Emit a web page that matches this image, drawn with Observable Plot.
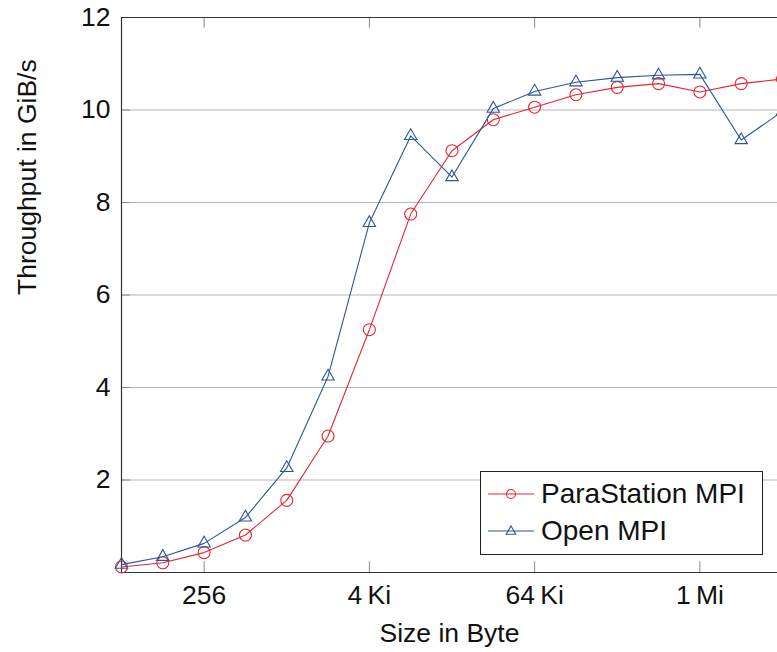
<!DOCTYPE html>
<html>
<head>
<meta charset="utf-8">
<script src="https://cdn.jsdelivr.net/npm/d3@7"></script>
<script src="https://cdn.jsdelivr.net/npm/@observablehq/plot@0.6"></script>
<style>
  html, body { margin: 0; padding: 0; background: white; overflow: hidden; }
  #wrap { position: relative; width: 777px; height: 652px; font-family: "Liberation Sans", Arial, sans-serif; }
  #legend { position: absolute; left: 480px; top: 471px; width: 283px; height: 84px; border: 1px solid #222; background: white; box-sizing: border-box; }
  .row { position: absolute; left: 0; height: 34px; display: flex; align-items: center; font-size: 28px; color: #111; white-space: nowrap; }
  .row svg { margin-left: 7px; margin-right: 7px; }
</style>
</head>
<body>
<div id="wrap"></div>
<script>
const sizes = [64, 128, 256, 512, 1024, 2048, 4096, 8192, 16384, 32768, 65536, 131072, 262144, 524288, 1048576, 2097152, 4194304];
const parastation = [0.12, 0.21, 0.43, 0.81, 1.56, 2.95, 5.25, 7.75, 9.12, 9.79, 10.06, 10.33, 10.49, 10.57, 10.39, 10.57, 10.67];
const openmpi = [0.17, 0.34, 0.63, 1.19, 2.26, 4.24, 7.56, 9.44, 8.55, 10.03, 10.40, 10.60, 10.70, 10.75, 10.77, 9.35, 9.97];
const seriesNames = ["ParaStation MPI", "Open MPI"];
const xTicks = [256, 4096, 65536, 1048576];
const xTickLabels = ["256", "4\u2009Ki", "64\u2009Ki", "1\u2009Mi"];
const yTicks = [2, 4, 6, 8, 10, 12];

const RED = "#e62530";
const BLUE = "#2c5696";
const FS = 26.5;

const dataP = sizes.map((s, i) => ({size: s, v: parastation[i]}));
const dataO = sizes.map((s, i) => ({size: s, v: openmpi[i]}));

const W = 777, H = 652;
const plot = Plot.plot({
  width: W,
  height: H,
  marginLeft: 121,
  marginRight: 0,
  marginTop: 17,
  marginBottom: 80,
  style: {fontFamily: "Liberation Sans, Arial, sans-serif", fontSize: FS + "px", color: "#111", background: "white"},
  x: {type: "log", base: 2, domain: [64, 4194304], range: [121, 782]},
  y: {domain: [0, 12], range: [572, 17]},
  marks: [
    Plot.ruleY(yTicks.slice(0, -1), {stroke: "#b5b5b5", strokeWidth: 1}),
    // inward ticks
    Plot.ruleX(xTicks, {x: d => d, y1: 0, y2: 0.23, stroke: "#888"}),
    Plot.ruleX(xTicks, {x: d => d, y1: 12, y2: 11.77, stroke: "#888"}),
    Plot.ruleY(yTicks, {y: d => d, x1: 64, x2: 64 * Math.pow(2, 0.22), stroke: "#888"}),
    // frame lines
    Plot.ruleY([0], {stroke: "#333", strokeWidth: 1.2}),
    Plot.ruleY([12], {stroke: "#333", strokeWidth: 1.2}),
    Plot.ruleX([64], {stroke: "#333", strokeWidth: 1.2}),
    Plot.axisX({ticks: xTicks, tickFormat: (d) => xTickLabels[xTicks.indexOf(d)], tickSize: 0, tickPadding: 13, label: null, fontSize: FS}),
    Plot.axisY({ticks: yTicks, tickSize: 0, tickPadding: 11, label: null, fontSize: FS}),
    Plot.line(dataP, {x: "size", y: "v", stroke: RED, strokeWidth: 1.1}),
    Plot.dot(dataP, {x: "size", y: "v", stroke: RED, r: 6, strokeWidth: 1.1, fill: "none"}),
    Plot.line(dataO, {x: "size", y: "v", stroke: BLUE, strokeWidth: 1.1}),
    Plot.dot(dataO, {x: "size", y: "v", stroke: BLUE, symbol: "triangle", r: 4.6, strokeWidth: 1.1, fill: "none"}),
    Plot.text(["Size in Byte"], {frameAnchor: "bottom", dy: 69, fontSize: FS, fill: "#111"}),
    Plot.text(["Throughput in GiB/s"], {frameAnchor: "left", dx: -94, rotate: -90, fontSize: FS, fill: "#111"})
  ]
});

const wrap = document.getElementById("wrap");
wrap.appendChild(plot);

// legend
const legend = document.createElement("div");
legend.id = "legend";
const sym = [
  `<circle cx="23" cy="7" r="4.5" fill="none" stroke="${RED}" stroke-width="1.1"/>`,
  `<path d="${d3.symbol(d3.symbolTriangle, 40)()}" transform="translate(23,7.5)" fill="none" stroke="${BLUE}" stroke-width="1.1"/>`
];
const cols = [RED, BLUE];
seriesNames.forEach((name, i) => {
  const row = document.createElement("div");
  row.className = "row";
  row.style.top = (5 + i * 37) + "px";
  row.innerHTML = `<svg width="46" height="14"><line x1="0" y1="7" x2="46" y2="7" stroke="${cols[i]}" stroke-width="1.1"/>${sym[i]}</svg><span>${name}</span>`;
  legend.appendChild(row);
});
wrap.appendChild(legend);
</script>
</body>
</html>
